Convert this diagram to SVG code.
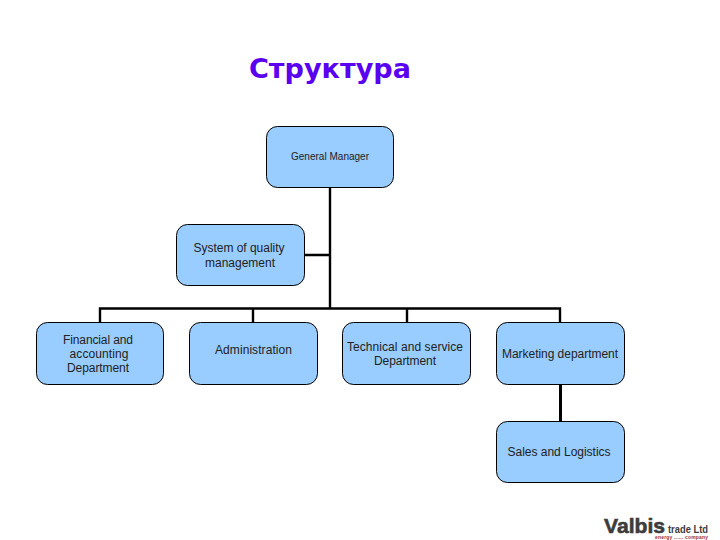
<svg xmlns="http://www.w3.org/2000/svg" width="720" height="540" viewBox="0 0 720 540">
<style>
.n{fill:#99ccff;stroke:#000;stroke-width:1}
.t{font-family:"Liberation Sans",Arial,sans-serif;font-size:12px;fill:#222;text-anchor:middle}
.c{fill:none;stroke:#000;stroke-width:2.4}
.l{font-family:"Liberation Sans",sans-serif;font-weight:700}
</style>
<rect width="720" height="540" fill="#fff"/>
<text x="330" y="78" font-family="'DejaVu Sans',sans-serif" font-weight="700" font-size="26" fill="#5a00f0" text-anchor="middle" textLength="162" lengthAdjust="spacingAndGlyphs">Структура</text>
<g id="connectors">
<path class="c" d="M330 187V308.500M304.500 255H330M100 322.500V308.500H560V322.500M253 308.500V322.500M407 308.500V322.500"/>
<path class="c" style="stroke-width:3" d="M560.500 384V421.500"/>
</g>
<g id="general-manager"><rect class="n" x="266.500" y="126.500" width="127" height="61" rx="11"/><text class="t" x="330" y="160" style="font-size:10px" textLength="78">General Manager</text></g>
<g id="quality"><rect class="n" x="176.500" y="224.500" width="128" height="61" rx="11"/><text class="t" x="239" y="252" textLength="91">System of quality</text><text class="t" x="240" y="267" textLength="70">management</text></g>
<g id="financial"><rect class="n" x="36.500" y="322.500" width="127" height="62" rx="11"/><text class="t" x="98" y="344" textLength="70">Financial and</text><text class="t" x="99" y="358" textLength="59">accounting</text><text class="t" x="98" y="372" textLength="62">Department</text></g>
<g id="administration"><rect class="n" x="189.500" y="322.500" width="128" height="62" rx="11"/><text class="t" x="253.500" y="354" textLength="77">Administration</text></g>
<g id="technical"><rect class="n" x="342.500" y="322.500" width="128" height="62" rx="11"/><text class="t" x="405" y="351" textLength="116">Technical and service</text><text class="t" x="405" y="365" textLength="62">Department</text></g>
<g id="marketing"><rect class="n" x="496.500" y="322.500" width="128" height="62" rx="11"/><text class="t" x="560" y="358" textLength="116">Marketing department</text></g>
<g id="sales"><rect class="n" x="496.500" y="421.500" width="128" height="61" rx="11"/><text class="t" x="559" y="456" textLength="103">Sales and Logistics</text></g>
<g id="logo">
<text class="l" x="604" y="533" font-size="21" fill="#3c3c3c" stroke="#3c3c3c" stroke-width=".6" textLength="61" lengthAdjust="spacingAndGlyphs">Valbis</text>
<text class="l" x="668" y="533" font-size="10" fill="#3c3c3c" textLength="40" lengthAdjust="spacingAndGlyphs">trade Ltd</text>
<text class="l" x="655" y="539" font-size="5" fill="#a03040" textLength="53">energy ...... company</text>
</g>
</svg>
